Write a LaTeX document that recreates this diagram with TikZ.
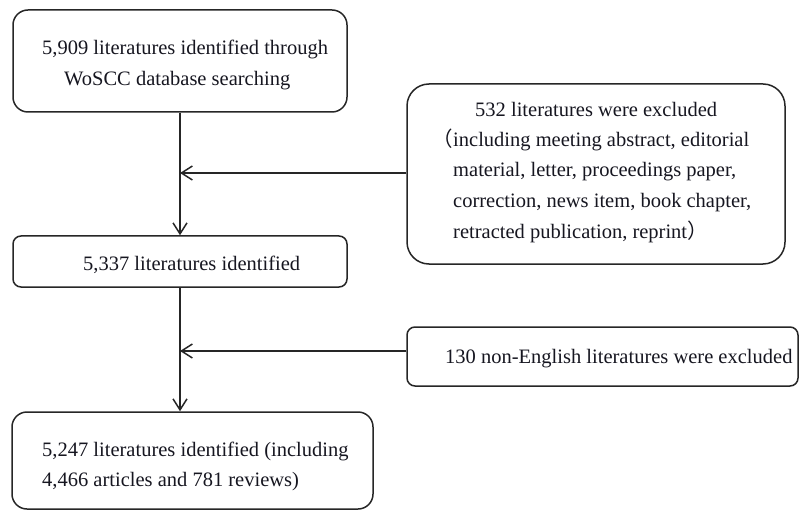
\documentclass[tikz,border=0pt]{standalone}
\usepackage{fontspec}
\setmainfont{Liberation Serif}
\newfontfamily\cjk{Noto Sans CJK SC}
\usetikzlibrary{arrows.meta}
\definecolor{linec}{RGB}{38,38,38}
\definecolor{txtc}{RGB}{22,22,32}
\begin{document}
\begin{tikzpicture}[x=1pt,y=-1pt,
  box/.style={draw=linec, line width=1.5pt, inner sep=0pt, fill=white},
  txt/.style={anchor=base west, inner sep=0pt, font=\fontsize{20.5}{30}\selectfont, text=txtc},
  conn/.style={draw=linec, line width=1.5pt, -{Straight Barb[length=11pt,width=14pt,line width=1.5pt]}}
]
\useasboundingbox (0,0) rectangle (799,510);
% boxes
\node[box, rounded corners=15pt, minimum width=334pt, minimum height=102pt] (b1) at (180,61) {};
\node[box, rounded corners=8pt, minimum width=334pt, minimum height=51pt] (b2) at (180,261.5) {};
\node[box, rounded corners=22pt, minimum width=378pt, minimum height=180pt] (r1) at (596,174) {};
\node[box, rounded corners=8pt, minimum width=391pt, minimum height=59pt] (r2) at (602.5,356.5) {};
\node[box, rounded corners=15pt, minimum width=361pt, minimum height=97pt] (b3) at (192.5,460.5) {};
% junctions
\coordinate (j1) at (180,173);
\coordinate (j2) at (180,351);
% connectors
\draw[conn] (b1.south) -- (b2.north);
\draw[conn] (b2.south) -- (b2.south |- b3.north);
\draw[conn] (r1.west |- j1) -- (j1);
\draw[conn] (r2.west |- j2) -- (j2);
% texts
\node[txt] (t1a) at (42,55) {5,909 literatures identified through};
\node[txt] (t1b) at (64,86) {WoSCC database searching};
\node[txt] (t2) at (83,270) {5,337 literatures identified};
\node[txt] (t3a) at (475,117) {532 literatures were excluded};
\node[txt] (t3b) at (453,147) {\llap{\cjk （}including meeting abstract, editorial};
\node[txt] (t3c) at (453,177) {material, letter, proceedings paper,};
\node[txt] (t3d) at (453,208) {correction, news item, book chapter,};
\node[txt] (t3e) at (453,239) {retracted publication, reprint{\cjk ）}};
\node[txt] (t4) at (445,363) {130 non-English literatures were excluded};
\node[txt] (t5a) at (42,456) {5,247 literatures identified (including};
\node[txt] (t5b) at (42,486) {4,466 articles and 781 reviews)};
\end{tikzpicture}
\end{document}
